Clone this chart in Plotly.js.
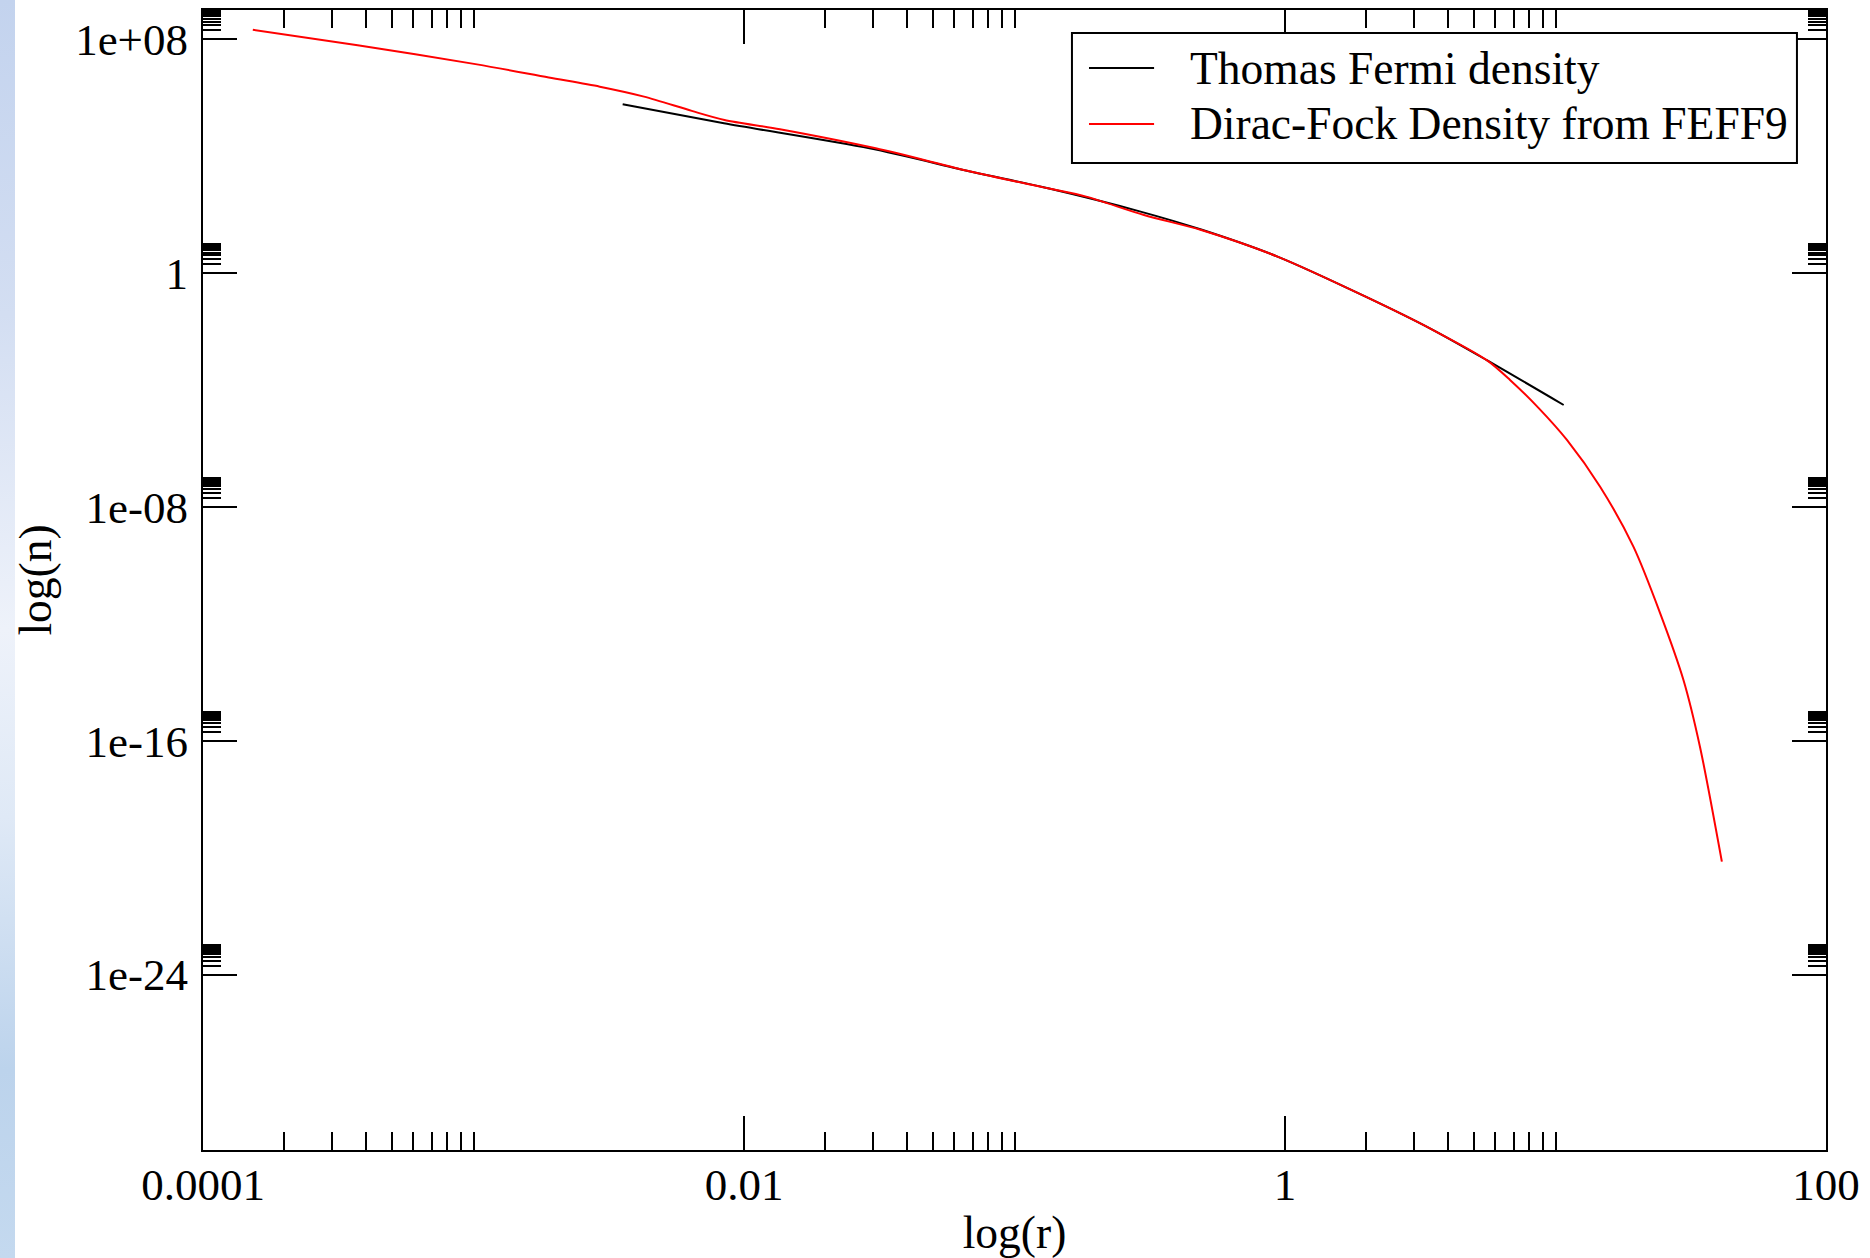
<!DOCTYPE html>
<html>
<head>
<meta charset="utf-8">
<script src="https://cdn.plot.ly/plotly-3.0.1.min.js"></script>
<style>
  html, body { margin: 0; padding: 0; background: #ffffff; }
  #strip { position: absolute; left: 0; top: 0; width: 15px; height: 1258px;
    background: linear-gradient(to bottom, #c3d3ee 0%, #d3def2 25%, #eef2fa 50%, #dfe9f6 65%, #bcd3ec 85%, #c4d9ef 100%); z-index: 0; }
  #chart { position: absolute; left: 0; top: 0; width: 1870px; height: 1258px; z-index: 1; }
</style>
</head>
<body>
<div id="strip"></div>
<div id="chart"></div>
<script>
// Thomas Fermi density (black)
const tfR = [3.56e-3, 8.43e-3, 2.91e-2, 6.93e-2, 0.133, 0.288, 0.490, 0.938, 1.986, 3.475, 5.57, 10.72];
const tfN = [5.93e5, 1.33e5, 1.85e4, 2.94e3, 796, 132, 30.8, 3.66, 0.156, 1.21e-2, 1.05e-3, 3.07e-5];

// Dirac-Fock density from FEFF9 (red)
const dfR = [1.528e-4, 3.73e-4, 1.030e-3, 1.897e-3, 2.93e-3, 4.27e-3, 6.41e-3, 8.47e-3, 1.358e-2, 3.07e-2,
             6.93e-2, 0.133, 0.184, 0.301, 0.490, 0.938, 1.986, 3.475, 5.57, 6.79, 8.65, 11.02, 14.62,
             19.41, 24.38, 29.72, 34.2, 41.21];
const dfN = [2.10e8, 6.19e7, 1.38e7, 4.91e6, 2.38e6, 1.09e6, 3.53e5, 1.73e5, 8.32e4, 1.85e4,
             2.94e3, 796, 412, 96.8, 29.7, 3.66, 0.156, 1.21e-2, 1.05e-3, 2.21e-4, 2.45e-5, 1.96e-6, 4.92e-8,
             4.37e-10, 2.29e-12, 1.20e-14, 6.28e-17, 7.33e-21];

// Axis ticks
const xMajor = [1e-4, 1e-2, 1, 100];
const xMajorText = ['0.0001', '0.01', '1', '100'];
const yMajor = [1e8, 1, 1e-8, 1e-16, 1e-24];
const yMajorText = ['1e+08', '1', '1e-08', '1e-16', '1e-24'];
const minorMultipliers = [2, 3, 4, 5, 6, 7, 8, 9, 10];

const seriesNames = ['Thomas Fermi density', 'Dirac-Fock Density from FEFF9'];
const seriesColors = ['#000000', '#ff0000'];
const xTitle = 'log(r)';
const yTitle = 'log(n)';

function minorOf(majors) {
  const out = [];
  majors.forEach(m => minorMultipliers.forEach(k => out.push(m * k)));
  return out;
}

const font = 'Liberation Serif, Times New Roman, serif';

const traces = [
  { x: tfR, y: tfN, type: 'scatter', mode: 'lines', name: seriesNames[0], showlegend: false,
    line: { color: seriesColors[0], width: 2, shape: 'spline', smoothing: 0.8 } },
  { x: dfR, y: dfN, type: 'scatter', mode: 'lines', name: seriesNames[1], showlegend: false,
    line: { color: seriesColors[1], width: 2, shape: 'spline', smoothing: 0.8 } }
];

const axisCommon = {
  type: 'log', showgrid: false, zeroline: false,
  showline: true, linecolor: '#000000', linewidth: 2, mirror: 'ticks',
  ticks: 'inside', ticklen: 34, tickwidth: 2, tickcolor: '#000000',
  tickmode: 'array',
  tickfont: { family: font, size: 45, color: '#000000' }
};

// Legend box drawn in paper coordinates (box, sample lines, labels)
const legendBox = { x0: 0.5354, x1: 0.9821, y0: 0.8658, y1: 0.9798 };
const legendRowsY = [0.9491, 0.9000];
const legendLineX = [0.5459, 0.5860];
const legendTextX = 0.6069;

const shapes = [
  { type: 'rect', xref: 'paper', yref: 'paper', x0: legendBox.x0, x1: legendBox.x1, y0: legendBox.y0, y1: legendBox.y1,
    line: { color: '#000000', width: 2 }, fillcolor: '#ffffff', layer: 'above' }
];
const annotations = [];
seriesNames.forEach((name, i) => {
  shapes.push({ type: 'line', xref: 'paper', yref: 'paper', x0: legendLineX[0], x1: legendLineX[1],
    y0: legendRowsY[i], y1: legendRowsY[i], line: { color: seriesColors[i], width: 2 }, layer: 'above' });
  annotations.push({ xref: 'paper', yref: 'paper', x: legendTextX, y: legendRowsY[i], xanchor: 'left', yanchor: 'middle',
    text: name, showarrow: false, font: { family: font, size: 45.5, color: '#000000' } });
});

const layout = {
  width: 1870, height: 1258,
  margin: { l: 203, r: 44, t: 10, b: 108 },
  paper_bgcolor: 'rgba(0,0,0,0)', plot_bgcolor: '#ffffff',
  showlegend: false,
  font: { family: font, color: '#000000' },
  xaxis: Object.assign({}, axisCommon, {
    range: [-4, 2],
    tickvals: xMajor, ticktext: xMajorText,
    ticklabelstandoff: -6,
    minor: { tickmode: 'array', tickvals: minorOf(xMajor), ticks: 'inside', ticklen: 18, tickwidth: 2, tickcolor: '#000000', showgrid: false },
    title: { text: xTitle, font: { family: font, size: 45.5, color: '#000000' }, standoff: 12 }
  }),
  yaxis: Object.assign({}, axisCommon, {
    range: [-30, 9],
    tickvals: yMajor, ticktext: yMajorText,
    ticklabelstandoff: 4,
    minor: { tickmode: 'array', tickvals: minorOf(yMajor), ticks: 'inside', ticklen: 18, tickwidth: 2, tickcolor: '#000000', showgrid: false },
    title: { text: yTitle, font: { family: font, size: 45.5, color: '#000000' }, standoff: 9 }
  }),
  shapes: shapes,
  annotations: annotations
};

Plotly.newPlot('chart', traces, layout, { displayModeBar: false, staticPlot: true });
</script>
</body>
</html>
